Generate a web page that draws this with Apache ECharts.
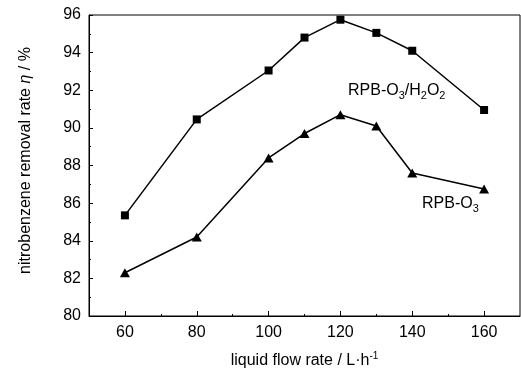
<!DOCTYPE html>
<html>
<head>
<meta charset="utf-8">
<script src="https://cdn.jsdelivr.net/npm/echarts@6/dist/echarts.min.js"></script>
<style>
  html, body { margin: 0; padding: 0; background: #ffffff; }
  #chart { width: 521px; height: 370px; }
</style>
</head>
<body>
<div id="chart"></div>
<script>
// liquid flow rate (L/h) and removal rate (%)
const flowRates = [60, 80, 100, 110, 120, 130, 140, 160];
const h2o2Removal = [85.35, 90.45, 93.05, 94.8, 95.75, 95.05, 94.1, 90.95];
const o3Removal = [82.3, 84.2, 88.4, 89.7, 90.7, 90.1, 87.6, 86.75];
const xMajorTicks = [60, 80, 100, 120, 140, 160];
const xMinorTicks = [70, 90, 110, 130, 150];

const font = 'Liberation Sans, Arial, sans-serif';
const pairs = (ys) => flowRates.map((x, i) => [x, ys[i]]);

const chart = echarts.init(document.getElementById('chart'), null, { renderer: 'canvas' });

chart.setOption({
  animation: false,
  backgroundColor: '#ffffff',
  textStyle: { fontFamily: font, color: '#000' },
  grid: {
    left: 89, right: 1, top: 15, bottom: 54,
    outerBoundsMode: 'none',
    show: true,
    borderColor: '#000',
    borderWidth: 1
  },
  xAxis: [{
    type: 'value',
    min: 50,
    max: 170,
    splitLine: { show: false },
    axisLine: { lineStyle: { color: '#000', width: 1 } },
    axisTick: {
      inside: true,
      length: 5,
      customValues: xMajorTicks,
      lineStyle: { color: '#000' }
    },
    axisLabel: {
      customValues: xMajorTicks,
      fontSize: 16,
      fontFamily: font,
      color: '#000',
      margin: 9
    },
    name: '{a|liquid flow rate / L\u00b7h}{s|-1}',
    nameLocation: 'middle',
    nameGap: 35,
    nameTextStyle: {
      rich: {
        a: { fontSize: 16, fontFamily: font, color: '#000', lineHeight: 20 },
        s: { fontSize: 10, fontFamily: font, color: '#000', lineHeight: 14, verticalAlign: 'top' }
      }
    }
  }, {
    // minor ticks only
    type: 'value',
    position: 'bottom',
    min: 50,
    max: 170,
    splitLine: { show: false },
    axisLine: { show: false },
    axisLabel: { show: false },
    axisTick: {
      inside: true,
      length: 2,
      customValues: xMinorTicks,
      lineStyle: { color: '#000' }
    }
  }],
  yAxis: {
    type: 'value',
    min: 80,
    max: 96,
    interval: 2,
    splitLine: { show: false },
    axisLine: { show: true, lineStyle: { color: '#000', width: 1 } },
    axisTick: { inside: true, length: 4, lineStyle: { color: '#000' } },
    minorTick: { show: true, splitNumber: 2, length: 2, lineStyle: { color: '#000' } },
    axisLabel: { fontSize: 16, fontFamily: font, color: '#000', margin: 8 },
    name: '{a|nitrobenzene removal rate }{i|\u03b7}{a| / %}',
    nameLocation: 'middle',
    nameGap: 55,
    nameTextStyle: {
      padding: [0, 0, 0, 10],
      rich: {
        a: { fontSize: 16, fontFamily: font, color: '#000' },
        i: { fontSize: 16, fontFamily: font, color: '#000', fontStyle: 'italic' }
      }
    }
  },
  series: [{
    name: 'RPB-O3/H2O2',
    type: 'line',
    data: pairs(h2o2Removal),
    symbol: 'rect',
    symbolSize: 8,
    lineStyle: { color: '#000', width: 1.5 },
    itemStyle: { color: '#000' }
  }, {
    name: 'RPB-O3',
    type: 'line',
    data: pairs(o3Removal),
    symbol: 'triangle',
    symbolSize: [10, 9],
    lineStyle: { color: '#000', width: 1.5 },
    itemStyle: { color: '#000' }
  }],
  graphic: [{
    type: 'text',
    x: 348,
    y: 91,
    style: {
      text: '{a|RPB-O}{s|3}{a|/H}{s|2}{a|O}{s|2}',
      verticalAlign: 'middle',
      rich: {
        a: { fontSize: 16, fontFamily: font, fill: '#000', lineHeight: 20 },
        s: { fontSize: 11, fontFamily: font, fill: '#000', lineHeight: 14, verticalAlign: 'bottom' }
      }
    }
  }, {
    type: 'text',
    x: 422,
    y: 204,
    style: {
      text: '{a|RPB-O}{s|3}',
      verticalAlign: 'middle',
      rich: {
        a: { fontSize: 16, fontFamily: font, fill: '#000', lineHeight: 20 },
        s: { fontSize: 11, fontFamily: font, fill: '#000', lineHeight: 14, verticalAlign: 'bottom' }
      }
    }
  }]
});
</script>
</body>
</html>
